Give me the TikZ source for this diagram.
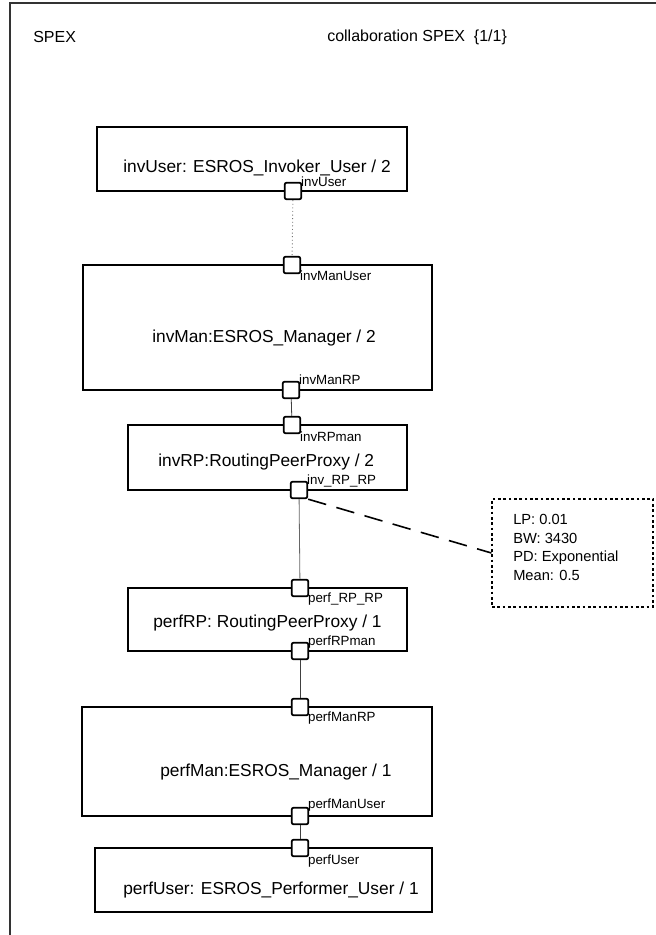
\documentclass[tikz,border=0pt]{standalone}
\usepackage{fontspec}
\setmainfont{Liberation Sans}
\usetikzlibrary{fit}
\begin{document}
\begin{tikzpicture}[x=0.75pt, y=-0.75pt,
        obj/.style={draw, line width=1.3pt, inner sep=0pt},
        port/.style={draw, fill=white, line width=1.3pt, rounded corners=1.5pt, minimum size=12.5pt, inner sep=0pt},
        otxt/.style={font=\fontsize{13}{15}\selectfont, inner sep=0pt, anchor=west},
        ptxt/.style={font=\fontsize{10}{11}\selectfont, inner sep=0pt, anchor=west},
        link/.style={line width=0.6pt, black!75}]
        \useasboundingbox (0,0) rectangle (656,935);
        \draw[line width=0.8pt, black!80] (10,960) -- (10,3) -- (680,3);

        \node[font=\fontsize{12}{14}\selectfont, anchor=west, inner sep=0pt] (title) at (33,37) {SPEX};
        \node[font=\fontsize{12}{14}\selectfont, anchor=west, inner sep=0pt] (coll) at (327,37) {collaboration SPEX \ \{1/1\}};

        % parts
        \node[obj, fit={(97,127) (407,191)}] (invUser) {};
        \node[obj, fit={(83,265) (432,390)}] (invMan) {};
        \node[obj, fit={(128,425) (407,490)}] (invRP) {};
        \node[obj, fit={(128,588) (407,651)}] (perfRP) {};
        \node[obj, fit={(82,707) (432,816)}] (perfMan) {};
        \node[obj, fit={(95,848) (432,912)}] (perfUser) {};

        \node[otxt] (invUserTxt) at (123,168) {invUser: ESROS\_Invoker\_User / 2};
        \node[otxt] (invManTxt) at (152,338) {invMan:ESROS\_Manager / 2};
        \node[otxt] (invRPTxt) at (158,462) {invRP:RoutingPeerProxy / 2};
        \node[otxt] (perfRPTxt) at (153,623) {perfRP: RoutingPeerProxy / 1};
        \node[otxt] (perfManTxt) at (160,772) {perfMan:ESROS\_Manager / 1};
        \node[otxt] (perfUserTxt) at (123,890) {perfUser: ESROS\_Performer\_User / 1};

        % ports
        \node[port] (pInvUser) at (293,191) {};
        \node[port] (pInvManUser) at (292,265) {};
        \node[port] (pInvManRP) at (291,390) {};
        \node[port] (pInvRPman) at (292,425) {};
        \node[port] (pInvRPRP) at (299,490) {};
        \node[port] (pPerfRPRP) at (300,588) {};
        \node[port] (pPerfRPman) at (300,651) {};
        \node[port] (pPerfManRP) at (300,707) {};
        \node[port] (pPerfManUser) at (300,816) {};
        \node[port] (pPerfUser) at (300,848) {};

        \node[ptxt] at ([xshift=-1pt, yshift=7pt]pInvUser.east) {invUser};
        \node[ptxt] at ([xshift=-1pt, yshift=-8pt]pInvManUser.east) {invManUser};
        \node[ptxt] at ([xshift=-1pt, yshift=8pt]pInvManRP.east) {invManRP};
        \node[ptxt] at ([xshift=-1pt, yshift=-9pt]pInvRPman.east) {invRPman};
        \node[ptxt] at ([xshift=-1pt, yshift=7pt]pInvRPRP.east) {inv\_RP\_RP};
        \node[ptxt] at ([xshift=-1pt, yshift=-8pt]pPerfRPRP.east) {perf\_RP\_RP};
        \node[ptxt] at ([xshift=-1pt, yshift=7pt]pPerfRPman.east) {perfRPman};
        \node[ptxt] at ([xshift=-1pt, yshift=-8pt]pPerfManRP.east) {perfManRP};
        \node[ptxt] at ([xshift=-1pt, yshift=8pt]pPerfManUser.east) {perfManUser};
        \node[ptxt] at ([xshift=-1pt, yshift=-10pt]pPerfUser.east) {perfUser};

        % connectors
        \draw[dotted, line width=0.7pt, black!55] (pInvUser) -- (pInvManUser);
        \draw[link] (pInvManRP) -- (pInvRPman);
        \draw[link, black!60] (pInvRPRP) -- (pPerfRPRP);
        \draw[link] (pPerfRPman) -- (pPerfManRP);
        \draw[link] (pPerfManUser) -- (pPerfUser);

        % note
        \node[draw, line width=0.9pt, dash pattern=on 2pt off 2pt, inner sep=0pt, fit={(492,499) (653,607)}] (note) {};
        \node[anchor=north west, align=left, inner sep=0pt, font=\fontsize{11}{14}\selectfont] (noteTxt) at (513,514)
            {LP: 0.01\\BW: 3430\\PD: Exponential\\Mean: 0.5};
        \draw[line width=1.2pt, dash pattern=on 14pt off 8pt] (pInvRPRP.south east) -- (note.west);
    \end{tikzpicture}
\end{document}
